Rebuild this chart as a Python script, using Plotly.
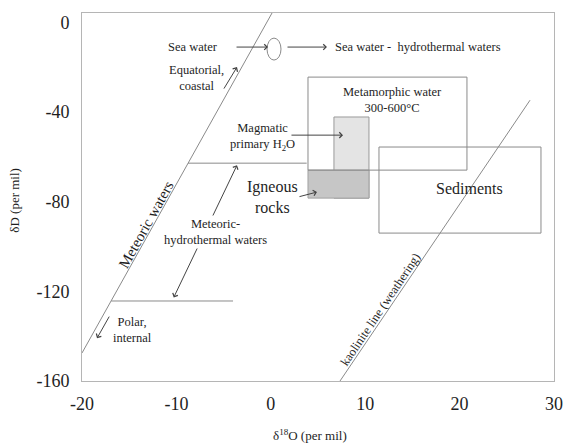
import plotly.graph_objects as go

# ---- data (per mil) ----
x_ticks = [-20, -10, 0, 10, 20, 30]
y_ticks = [0, -40, -80, -120, -160]

meteoric_x = [-20.0, 0.13]
meteoric_y = [-147.5, 4.2]

kaolinite_x = [7.33, 27.46]
kaolinite_y = [-160.0, -34.7]

# boxes: [x0, x1, y0, y1]
metamorphic_box = [3.94, 20.78, -65.9, -24.4]
magmatic_box = [6.69, 10.40, -78.4, -42.2]
igneous_box = [3.94, 10.40, -78.4, -65.9]
sediments_box = [11.46, 28.62, -94.0, -55.6]
seawater_ellipse = [-0.40, 1.08, -16.8, -7.0]

# horizontal guide lines
hline1_x = [-8.77, 3.8]
hline1_y = [-62.8, -62.8]
hline2_x = [-16.9, -4.0]
hline2_y = [-124.3, -124.3]

# arrows: (tail_x, tail_y, head_x, head_y, double)
arrows = [
    (-3.79, -11.0, -0.30, -11.0, False),   # sea water -> ellipse
    (1.61, -11.0, 5.95, -11.0, False),     # ellipse -> sea water-hydrothermal
    (-5.06, -30.2, -3.58, -19.95, False),  # equatorial
    (2.03, -50.3, 7.65, -50.3, False),     # magmatic
    (2.88, -77.9, 4.89, -75.7, False),     # igneous
    (-10.36, -123.4, -3.58, -63.7, True),  # meteoric-hydrothermal
    (-17.03, -130.6, -18.41, -140.9, False),  # polar
]

LINE = "#8a8a8a"
TXT = "#1e1e1e"
FONT = "Liberation Serif, Times New Roman, serif"

fig = go.Figure()

def box_shape(b, fill=None, color=LINE, layer="above"):
    return dict(type="rect", xref="x", yref="y", x0=b[0], x1=b[1], y0=b[2], y1=b[3],
                line=dict(color=color, width=1),
                fillcolor=fill if fill else "rgba(0,0,0,0)", layer=layer)

shapes = [
    box_shape(magmatic_box, fill="#e4e4e4", color="#9a9a9a", layer="below"),
    box_shape(igneous_box, fill="#c6c6c6", color="#a0a0a0", layer="below"),
    box_shape(metamorphic_box),
    box_shape(sediments_box),
    dict(type="circle", xref="x", yref="y", x0=seawater_ellipse[0], x1=seawater_ellipse[1],
         y0=seawater_ellipse[2], y1=seawater_ellipse[3], line=dict(color=LINE, width=1)),
]

for xs, ys in [(meteoric_x, meteoric_y), (kaolinite_x, kaolinite_y),
               (hline1_x, hline1_y), (hline2_x, hline2_y)]:
    fig.add_trace(go.Scatter(x=xs, y=ys, mode="lines", line=dict(color=LINE, width=1),
                             showlegend=False, hoverinfo="skip", cliponaxis=True))

annotations = []
for tx, ty, hx, hy, dbl in arrows:
    annotations.append(dict(x=hx, y=hy, ax=tx, ay=ty, xref="x", yref="y", axref="x", ayref="y",
                            text="", showarrow=True, arrowhead=4, arrowsize=1.1, arrowwidth=1,
                            arrowcolor="#444444", startarrowhead=4, startarrowsize=1.1,
                            arrowside="end+start" if dbl else "end"))

def label(x, y, text, size=12.5, angle=0, xanchor="center", bg=None):
    d = dict(x=x, y=y, xref="x", yref="y", text=text, showarrow=False,
             font=dict(family=FONT, size=size, color=TXT), textangle=angle,
             xanchor=xanchor, yanchor="middle")
    if bg:
        d["bgcolor"] = bg
    annotations.append(d)

label(-8.24, -11.0, "Sea water")
label(6.59, -11.0, "Sea water -  hydrothermal waters", xanchor="left")
label(-7.92, -24.9, "Equatorial,<br>coastal")
label(12.94, -34.7, "Metamorphic water<br>300-600°C")
label(-0.93, -51.2, "Magmatic<br>primary H<sub>2</sub>O")
label(0.13, -77.9, "Igneous<br>rocks", size=16)
label(21.1, -73.9, "Sediments", size=16)
label(-5.81, -93.5, "Meteoric-<br>hydrothermal waters", bg="white")
label(-14.6, -137.3, "Polar,<br>internal")
label(-13.22, -90.4, "Meteoric waters", size=15, angle=-61)
label(11.67, -127.9, "kaolinite line (weathering)", size=12.5, angle=-56)

# axis titles
annotations.append(dict(x=0.483, y=0, xref="paper", yref="paper", yshift=-44,
                        text="δ<sup>18</sup>O (per mil)", showarrow=False,
                        xanchor="center", yanchor="top",
                        font=dict(family=FONT, size=13, color=TXT)))
annotations.append(dict(x=0, y=0.49, xref="paper", yref="paper", xshift=-67,
                        text="δD (per mil)", showarrow=False, textangle=-90,
                        xanchor="center", yanchor="middle",
                        font=dict(family=FONT, size=13, color=TXT)))

fig.update_layout(
    width=565, height=443,
    margin=dict(l=82, r=11, t=13, b=62, autoexpand=False),
    paper_bgcolor="white", plot_bgcolor="white",
    font=dict(family=FONT, color=TXT),
    shapes=shapes, annotations=annotations, showlegend=False,
)
fig.update_xaxes(range=[-20, 30], tickvals=x_ticks, ticktext=[str(v) for v in x_ticks],
                 showgrid=False, zeroline=False, showline=True, mirror=True, automargin=False,
                 linecolor="#b5b5b5", linewidth=1, ticks="", ticklabelstandoff=6,
                 ticklabeloverflow="allow",
                 tickfont=dict(size=18, family=FONT, color=TXT))
fig.update_yaxes(range=[-160, 4.2], tickvals=y_ticks, ticktext=[str(v) for v in y_ticks],
                 showgrid=False, zeroline=False, showline=True, mirror=True, automargin=False,
                 linecolor="#b5b5b5", linewidth=1, ticks="", ticklabelstandoff=8,
                 ticklabeloverflow="allow",
                 tickfont=dict(size=18, family=FONT, color=TXT))

# remove the default 8px page margin so the 565x443 figure fills the window exactly
fig.write_html("out.html", config={"displayModeBar": False},
               post_script="document.body.style.margin='0';document.body.style.overflow='hidden';")
